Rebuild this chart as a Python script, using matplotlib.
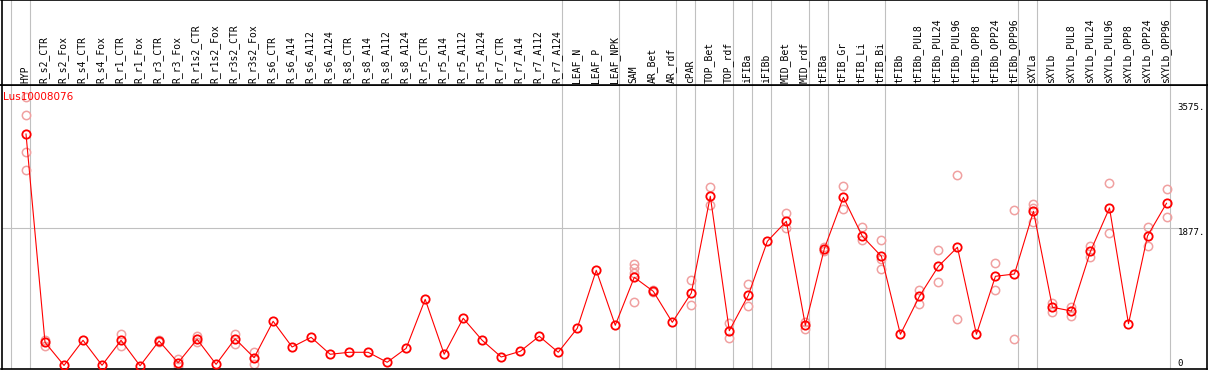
import matplotlib
matplotlib.use('Agg')
import matplotlib.pyplot as plt

# sample names (column headers)
samples = ['HYP', 'R_s2_CTR', 'R_s2_Fox', 'R_s4_CTR', 'R_s4_Fox', 'R_r1_CTR', 'R_r1_Fox',
           'R_r3_CTR', 'R_r3_Fox', 'R_r1s2_CTR', 'R_r1s2_Fox', 'R_r3s2_CTR', 'R_r3s2_Fox',
           'R_s6_CTR', 'R_s6_A14', 'R_s6_A112', 'R_s6_A124', 'R_s8_CTR', 'R_s8_A14',
           'R_s8_A112', 'R_s8_A124', 'R_r5_CTR', 'R_r5_A14', 'R_r5_A112', 'R_r5_A124',
           'R_r7_CTR', 'R_r7_A14', 'R_r7_A112', 'R_r7_A124', 'LEAF_N', 'LEAF_P', 'LEAF_NPK',
           'SAM', 'AR_Bet', 'AR_rdf', 'cPAR', 'TOP_Bet', 'TOP_rdf', 'iFIBa', 'iFIBb',
           'MID_Bet', 'MID_rdf', 'tFIBa', 'tFIB_Gr', 'tFIB_Li', 'tFIB_Bi', 'tFIBb',
           'tFIBb_PUL8', 'tFIBb_PUL24', 'tFIBb_PUL96', 'tFIBb_OPP8', 'tFIBb_OPP24',
           'tFIBb_OPP96', 'sXYLa', 'sXYLb', 'sXYLb_PUL8', 'sXYLb_PUL24', 'sXYLb_PUL96',
           'sXYLb_OPP8', 'sXYLb_OPP24', 'sXYLb_OPP96']

# mean expression
means = [3156, 320, 5, 347, 7, 347, 0, 338, 42, 361, 20, 369, 110, 606, 256,
         388, 157, 184, 184, 48, 238, 905, 157, 647, 347, 120, 197, 402, 184,
         511, 1300, 551, 1205, 1014, 592, 991, 2308, 478, 960, 1695, 1968, 551,
         1595, 2294, 1763, 1491, 429, 946, 1355, 1614, 429, 1219, 1250, 2104,
         797, 746, 1559, 2149, 573, 1768, 2213]

# replicate values (index -> list)
replicates = {
    0: [3656, 3411, 2907, 2662], 1: [351, 270], 5: [429, 270], 7: [351, 320],
    8: [97, 0], 9: [410, 320], 11: [429, 297], 12: [184, 25],
    32: [1386, 1327, 1268, 865], 33: [1030, 1000], 35: [1164, 824],
    36: [2431, 2186], 37: [579, 374], 38: [1114, 810], 40: [2077, 1872],
    41: [600, 505], 42: [1620, 1570], 43: [2452, 2131], 44: [1886, 1713],
    45: [1709, 1450, 1314], 47: [1032, 846], 48: [1573, 1137], 49: [2594, 633],
    51: [1400, 1028], 52: [2117, 361], 53: [2203, 2150, 1962], 54: [859, 737],
    55: [801, 683], 56: [1631, 1486], 57: [2485, 1804], 59: [1890, 1627],
    60: [2407, 2022],
}

# group separators fall after these sample indices
separators = [-1, 0, 28, 31, 34, 35, 37, 38, 39, 41, 42, 45, 52, 53, 60]

gene = 'Lus10008076'
max_val = 3575
mid_val = 1877

W, H = 1209, 370
fig = plt.figure(figsize=(W / 100, H / 100), dpi=100)

left = 1.5 / W
width = (1207 - 1.5) / W
xlim = (-1.289, 62.13)

ax = fig.add_axes([left, (H - 369) / H, width, (369 - 85) / H])
hd = fig.add_axes([left, (H - 85) / H, width, 85 / H])

gray = '#c0c0c0'
x = list(range(len(samples)))

for a in (ax, hd):
    a.set_xlim(*xlim)
    for s in separators:
        a.axvline(s + 0.2, color=gray, lw=0.8, zorder=0)
    a.set_xticks([])
    a.set_yticks([])
    for sp in a.spines.values():
        sp.set_color('black')
        sp.set_linewidth(1.2)

ax.set_ylim(-43.6, 3823.6)
ax.axhline(mid_val, xmax=0.976, color=gray, lw=0.8, zorder=0)

# replicates
for i, vals in replicates.items():
    ax.plot([i] * len(vals), vals, 'o', ms=6, mfc='none', mec='#f0a0a0', mew=1.1, zorder=2)

ax.plot(x, means, '-', color='red', lw=0.8, zorder=3)
ax.plot(x, means, 'o', ms=6, mfc='none', mec='red', mew=1.3, zorder=4)

ax.text(0.0015, 0.975, gene, transform=ax.transAxes, color='red', fontsize=7.5,
        family='DejaVu Sans', va='top', ha='left', zorder=5)

tr = ax.get_yaxis_transform()
for val, lab, va in [(max_val, '3575.', 'top'), (mid_val, '1877.', 'top'), (0, '0', 'baseline')]:
    ax.text(0.9755, val, lab, transform=tr, family='DejaVu Sans Mono', fontsize=6.6,
            va=va, ha='left')

# header labels
hd.set_ylim(85, 0)
for i, name in enumerate(samples):
    hd.text(i - 0.05, 83, name, rotation=90, ha='center', va='bottom',
            family='DejaVu Sans Mono', fontsize=7)

fig.savefig('out.png', dpi=100)
